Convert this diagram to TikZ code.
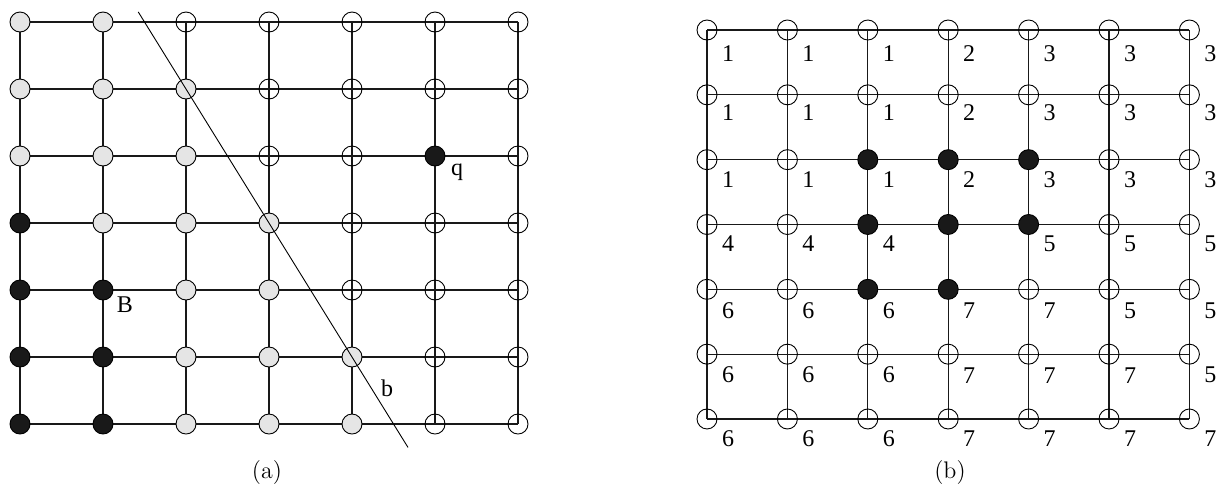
\documentclass[tikz,border=0pt]{standalone}
\usepackage{fontspec}
\newfontfamily\lblfont{Liberation Serif}
\usetikzlibrary{backgrounds,calc}
\begin{document}
\begin{tikzpicture}[x=0.5pt,y=-0.5pt,
  vtx/.style={circle,draw=black,line width=0.45pt,minimum size=10pt,inner sep=0pt},
  wv/.style={vtx},
  gv/.style={vtx,fill=black!10},
  kv/.style={vtx,fill=black!90},
  gridline/.style={line width=0.55pt,draw=black!90},
  cutline/.style={line width=0.45pt,draw=black},
  lab/.style={font=\lblfont\fontsize{12}{14}\selectfont,inner sep=0pt},
  captext/.style={font=\fontsize{12}{14}\selectfont,inner sep=0pt}]
\useasboundingbox (0,0) rectangle (1219,488);
% ---------- left grid (a)
\foreach \r/\row in {0/{g,g,w,w,w,w,w},1/{g,g,g,w,w,w,w},2/{g,g,g,w,w,k,w},3/{k,g,g,g,w,w,w},4/{k,k,g,g,w,w,w},5/{k,k,g,g,g,w,w},6/{k,k,g,g,g,w,w}}{
  \foreach \kind [count=\c from 0] in \row {
    \node[\kind v] (L-\r-\c) at ({20+83*\c},{22+67*\r}) {};
  }
}
\begin{scope}[on background layer]
\foreach \i in {0,...,6}{
  \draw[gridline] (L-\i-0.center) -- (L-\i-6.center);
  \draw[gridline] (L-0-\i.center) -- (L-6-\i.center);
}
\end{scope}
\coordinate (b1) at ($(L-1-2.center)!-0.575!(L-3-3.center)$);
\coordinate (b2) at ($(L-1-2.center)!2.675!(L-3-3.center)$);
\draw[cutline] (b1) -- (b2);
\node[lab] (lb) at (387,388) {b};
\node[lab] (lq) at (457,172) {q};
\node[lab] (lB) at (125,305) {B};
\node[captext] (capa) at (267,473) {(a)};
% ---------- right grid (b)
\foreach \r/\row in {0/{w,w,w,w,w,w,w},1/{w,w,w,w,w,w,w},2/{w,w,k,k,k,w,w},3/{w,w,k,k,k,w,w},4/{w,w,k,k,w,w,w},5/{w,w,w,w,w,w,w},6/{w,w,w,w,w,w,w}}{
  \foreach \kind [count=\c from 0] in \row {
    \node[\kind v] (R-\r-\c) at ({707+80.4*\c},{30+64.83*\r}) {};
  }
}
\begin{scope}[on background layer]
\foreach \i in {0,...,6}{
  \draw[gridline] (R-\i-0.center) -- (R-\i-6.center);
  \draw[gridline] (R-0-\i.center) -- (R-6-\i.center);
}
\end{scope}
\foreach \r/\dy/\row in {0/24/{1,1,1,2,3,3,3},1/18/{1,1,1,2,3,3,3},2/20/{1,1,1,2,3,3,3},3/19/{4,4,4,x,5,5,5},4/21/{6,6,6,7,7,5,5},5/21/{6,6,6,7,7,7,5},6/20/{6,6,6,7,7,7,7}}{
  \foreach \v [count=\c from 0] in \row {
    \if\v x\else
      \node[lab] (N-\r-\c) at ($(R-\r-\c)+(21,\dy)$) {\v};
    \fi
  }
}
\node[captext] (capb) at (950,473) {(b)};
\end{tikzpicture}
\end{document}
